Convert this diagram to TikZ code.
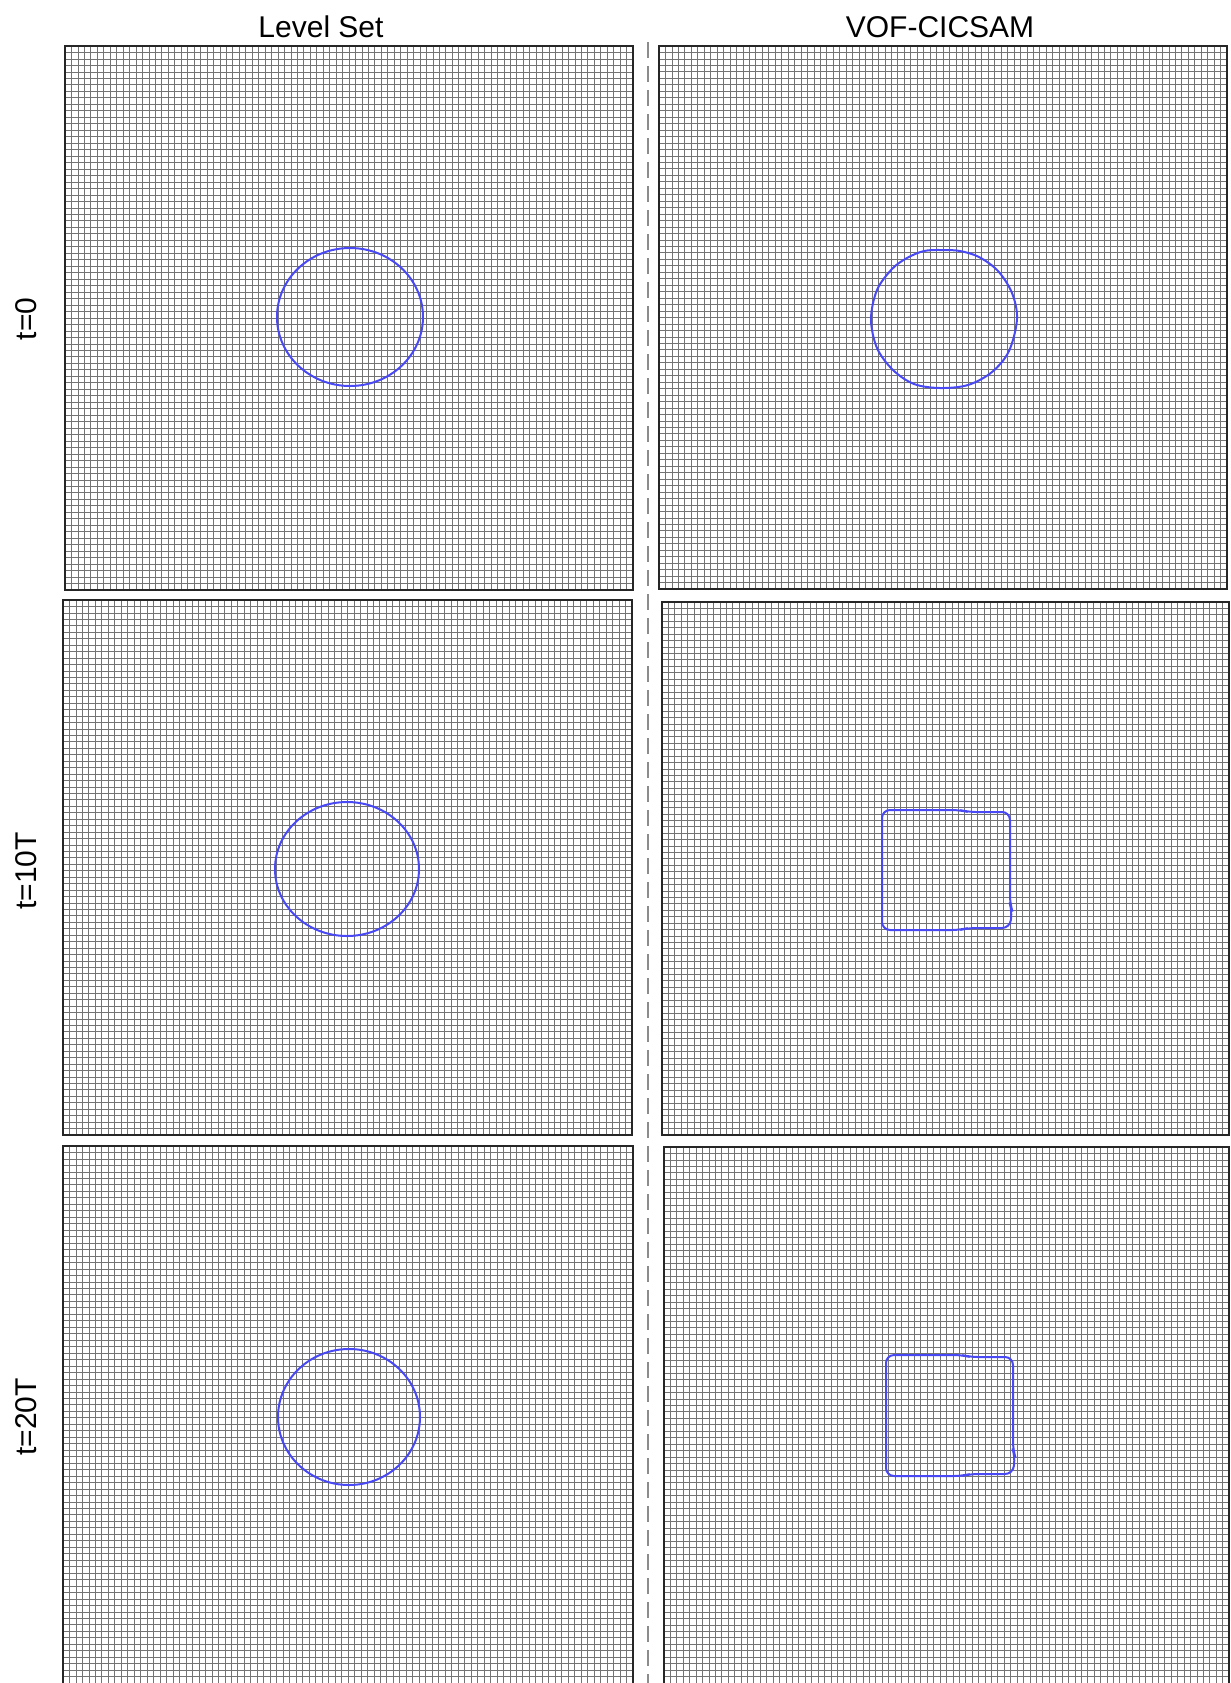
\documentclass[tikz,border=0pt]{standalone}
\usepackage{fontspec}
\setmainfont{Liberation Sans}
\usepackage{xcolor}
\definecolor{ifaceblue}{RGB}{72,72,245}

\begin{document}
\begin{tikzpicture}[
x=0.5pt,
y=-0.5pt,
every node/.style={font=\fontsize{15}{18}\selectfont},
meshline/.style={draw=black!55,line width=0.4pt},
meshframe/.style={draw=black!85,line width=1pt},
meshsep/.style={draw=black!45,line width=1.2pt,dash pattern=on 8pt off 4pt},
meshiface/.style={draw=ifaceblue,line width=1pt},
meshhead/.style={anchor=base,inner sep=0pt},
meshrow/.style={anchor=base,rotate=90,inner sep=0pt}
]
\useasboundingbox (0,0) rectangle (1231,1683);
\clip (0,0) rectangle (1231,1683);

% six mesh panels: left x, top y, width, height, cells across, cells down
\foreach \px/\py/\pw/\ph/\nx/\ny in {65/46/568/544/88/84, 659/46/568/543/88/84,
  63/600/569/535/88/83, 662/602/567/533/88/83,
  63/1146/570/550/88/85, 664/1147/565/549/88/85}{
  \draw[meshline] \foreach \i in {0,...,\nx}{({\px+\i*(\pw/\nx)},\py) -- ++(0,\ph)};
  \draw[meshline] \foreach \j in {0,...,\ny}{(\px,{\py+\j*(\ph/\ny)}) -- ++(\pw,0)};
  \draw[meshframe] (\px,\py) rectangle ++(\pw,\ph);
}

\node[meshhead] (lvlhead) at (321,37) {Level Set};
\node[meshhead] (vofhead) at (940,37) {VOF-CICSAM};
\node[meshrow] (rowa) at (36,319) {t=0};
\node[meshrow] (rowb) at (36,871) {t=10T};
\node[meshrow] (rowc) at (36,1417) {t=20T};

\coordinate (septop) at (648,42);
\coordinate (sepbot) at (648,1683);
\draw[meshsep] (septop) -- (sepbot);

% level set interfaces
\draw[meshiface] (350,317) ellipse [x radius=73, y radius=69];
\draw[meshiface] (347,869) ellipse [x radius=72, y radius=67];
\draw[meshiface] (349,1417) ellipse [x radius=71, y radius=68];

% VOF-CICSAM interfaces
\draw[meshiface] plot[smooth cycle,tension=0.55] coordinates {(1017,319) (1012,293) (998,271)
  (979,257) (960,251) (942,250) (924,251) (907,258) (892,269) (877,290) (871,319) (877,348)
  (893,370) (914,384) (940,388) (968,385) (992,372) (1009,351)};
\draw[meshiface,rounded corners=4pt] (882,870) -- (882,810) -- (960,810) -- (968,812) -- (1010,812)
  -- (1010,904) -- (1012,910) -- (1010,928) -- (968,928) -- (960,930) -- (882,930) -- cycle;
\draw[meshiface,rounded corners=4pt] (886,1415) -- (886,1355) -- (962,1355) -- (970,1357) -- (1013,1357)
  -- (1013,1450) -- (1015,1456) -- (1013,1474) -- (970,1474) -- (962,1476) -- (886,1476) -- cycle;
\end{tikzpicture}
\end{document}
